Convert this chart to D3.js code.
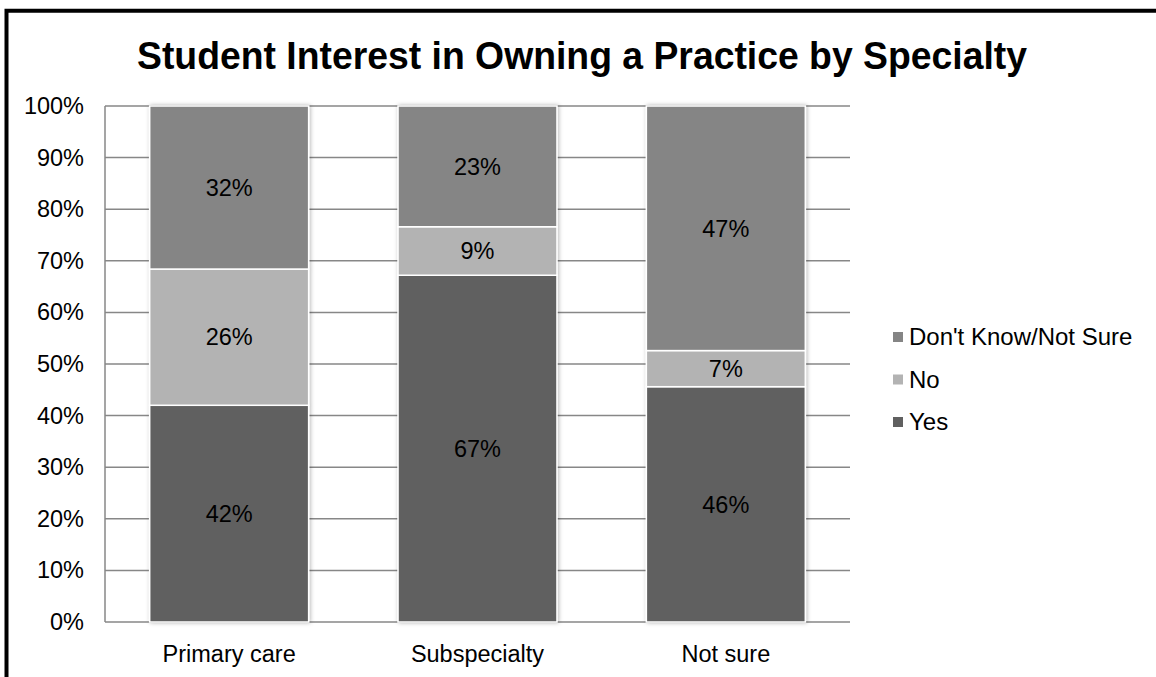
<!DOCTYPE html>
<html>
<head>
<meta charset="utf-8">
<script src="https://cdn.jsdelivr.net/npm/d3@7"></script>
<style>
  html, body { margin: 0; padding: 0; background: #fff; }
  svg { display: block; font-family: "Liberation Sans", Arial, sans-serif; }
</style>
</head>
<body>
<svg id="chart" width="1156" height="677"></svg>
<script>
// Categories along the x axis
const categories = ["Primary care", "Subspecialty", "Not sure"];
// Stacked series, bottom to top (percent of students)
const seriesNames = ["Yes", "No", "Don't Know/Not Sure"];
const yesValues = [42.0, 67.2, 45.6];
const noValues = [26.4, 9.4, 7.0];
const dontKnowValues = [31.6, 23.4, 47.4];
// Y axis ticks
const yTicks = [0, 10, 20, 30, 40, 50, 60, 70, 80, 90, 100];

const title = "Student Interest in Owning a Practice by Specialty";
const colors = { "Yes": "#606060", "No": "#b3b3b3", "Don't Know/Not Sure": "#858585" };

const svg = d3.select("#chart");
const W = 1156, H = 677;
const plot = { left: 105, right: 850, top: 106, bottom: 622 };
const labelSize = 23.5;

// Outer frame
svg.append("rect")
  .attr("x", 6.5).attr("y", 10.75)
  .attr("width", W + 20).attr("height", H + 20)
  .attr("fill", "none").attr("stroke", "#000").attr("stroke-width", 4);

// Title
svg.append("text")
  .attr("x", 582).attr("y", 69)
  .attr("text-anchor", "middle")
  .attr("font-weight", "bold")
  .attr("font-size", 38)
  .attr("textLength", 890)
  .attr("lengthAdjust", "spacingAndGlyphs")
  .attr("fill", "#000")
  .text(title);

const x = d3.scaleBand()
  .domain(categories)
  .range([plot.left, plot.right])
  .paddingInner(0.36)
  .paddingOuter(0.18);

const y = d3.scaleLinear()
  .domain([0, 100])
  .range([plot.bottom, plot.top]);

// Gridlines
svg.append("g")
  .selectAll("line")
  .data(yTicks)
  .join("line")
  .attr("x1", plot.left).attr("x2", plot.right)
  .attr("y1", d => y(d)).attr("y2", d => y(d))
  .attr("stroke", "#878787").attr("stroke-width", 1.5);

// Left axis line
svg.append("line")
  .attr("x1", plot.left).attr("x2", plot.left)
  .attr("y1", plot.top).attr("y2", plot.bottom)
  .attr("stroke", "#878787").attr("stroke-width", 1.5);

// Y axis tick labels
const yAxis = d3.axisLeft(y).tickValues(yTicks).tickFormat(d => d + "%").tickSize(0).tickPadding(21);
const yg = svg.append("g").attr("transform", `translate(${plot.left},0)`).call(yAxis);
yg.select(".domain").remove();
yg.selectAll("text")
  .attr("font-family", "Liberation Sans, Arial, sans-serif")
  .attr("font-size", labelSize).attr("fill", "#000");

// Stack data
const rows = categories.map((c, i) => ({
  category: c,
  "Yes": yesValues[i],
  "No": noValues[i],
  "Don't Know/Not Sure": dontKnowValues[i]
}));
const stacked = d3.stack().keys(seriesNames)(rows);

// Soft shadow around bars
const defs = svg.append("defs");
const f = defs.append("filter").attr("id", "glow")
  .attr("x", "-10%").attr("y", "-10%").attr("width", "120%").attr("height", "120%");
f.append("feDropShadow").attr("dx", 1).attr("dy", 0).attr("stdDeviation", 2)
  .attr("flood-color", "#000").attr("flood-opacity", 0.3);

const barsG = svg.append("g").attr("filter", "url(#glow)");
stacked.forEach(layer => {
  barsG.append("g")
    .selectAll("rect")
    .data(layer)
    .join("rect")
    .attr("x", d => x(d.data.category))
    .attr("width", x.bandwidth())
    .attr("y", d => y(d[1]))
    .attr("height", d => y(d[0]) - y(d[1]))
    .attr("fill", colors[layer.key])
    .attr("stroke", "#fff")
    .attr("stroke-width", 1.5);
});

// Value labels
stacked.forEach(layer => {
  svg.append("g")
    .selectAll("text")
    .data(layer)
    .join("text")
    .attr("x", d => x(d.data.category) + x.bandwidth() / 2)
    .attr("y", d => (y(d[0]) + y(d[1])) / 2)
    .attr("dy", "0.35em")
    .attr("text-anchor", "middle")
    .attr("font-size", labelSize)
    .attr("fill", "#000")
    .text(d => Math.round(d[1] - d[0]) + "%");
});

// X axis category labels
const xAxis = d3.axisBottom(x).tickSize(0).tickPadding(23);
const xg = svg.append("g").attr("transform", `translate(0,${plot.bottom})`).call(xAxis);
xg.select(".domain").remove();
xg.selectAll("text")
  .attr("font-family", "Liberation Sans, Arial, sans-serif")
  .attr("font-size", labelSize).attr("fill", "#000");

// Legend (top to bottom: reverse of stacking order)
const legendItems = seriesNames.slice().reverse();
const lg = svg.append("g").attr("transform", "translate(893,0)");
const legendY = d3.scalePoint().domain(legendItems).range([337, 422]);
lg.selectAll("rect")
  .data(legendItems)
  .join("rect")
  .attr("x", 0).attr("y", d => legendY(d) - 5)
  .attr("width", 10).attr("height", 10)
  .attr("fill", d => colors[d]);
lg.selectAll("text")
  .data(legendItems)
  .join("text")
  .attr("x", 16).attr("y", d => legendY(d))
  .attr("dy", "0.35em")
  .attr("font-size", 24)
  .attr("fill", "#000")
  .text(d => d);
</script>
</body>
</html>
